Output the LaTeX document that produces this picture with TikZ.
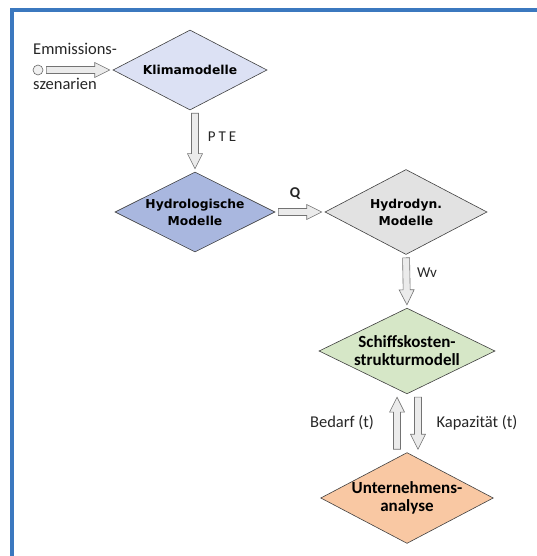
\documentclass[tikz,border=0pt]{standalone}
\usepackage{fontspec}
\setmainfont{Carlito}
\newfontfamily\boxfont{DejaVu Sans}
\usetikzlibrary{shapes.geometric,calc,positioning}
\definecolor{framecol}{HTML}{3B78BF}
\definecolor{klimacol}{HTML}{DCE1F4}
\definecolor{hydrocol}{HTML}{A9B7DF}
\definecolor{dyncol}{HTML}{E2E2E2}
\definecolor{schiffcol}{HTML}{D6E7C7}
\definecolor{untercol}{HTML}{F9C8A3}
\newcommand{\blockarrow}[2]{%
	\coordinate (ba-s) at ($(#1)!3pt!(#2)$);
	\coordinate (ba-t) at ($(#2)!3pt!(#1)$);
	\coordinate (ba-h) at ($(ba-t)!15pt!(ba-s)$);
	\filldraw[blockarr] ($(ba-s)!3.5pt!90:(ba-t)$) -- ($(ba-h)!3.5pt!90:(ba-t)$)
		-- ($(ba-h)!7.5pt!90:(ba-t)$) -- (ba-t) -- ($(ba-h)!7.5pt!-90:(ba-t)$)
		-- ($(ba-h)!3.5pt!-90:(ba-t)$) -- ($(ba-s)!3.5pt!-90:(ba-t)$) -- cycle;%
}
\begin{document}
\begin{tikzpicture}[x=1pt, y=-1pt,
		model/.style={diamond, draw=black!75, line width=0.6pt, inner sep=0pt, aspect=1.9, align=center},
		dejamodel/.style={model, font=\boxfont\bfseries\fontsize{12.3}{17}\selectfont},
		calimodel/.style={model, font=\bfseries\fontsize{17}{18}\selectfont},
		lbl/.style={font=\fontsize{16.5}{18}\selectfont, text=black!85, inner sep=0pt},
		flowlbl/.style={font=\fontsize{15}{17}\selectfont, text=black!85, inner sep=0pt},
		blockarr/.style={draw=black!55, fill=black!8, line width=0.6pt, line join=miter}]
		\useasboundingbox (0,0) rectangle (537,556);
		\draw[framecol, line width=3.5pt] (12,556) -- (12,10) -- (537,10);
		\node[dejamodel, fill=klimacol, minimum width=154pt, minimum height=80pt] (klima) at (190,70) {Klimamodelle};
		\node[dejamodel, fill=hydrocol, minimum width=160pt, minimum height=80pt] (hydro) at (195,212) {Hydrologische\\Modelle};
		\node[dejamodel, fill=dyncol, minimum width=162pt, minimum height=85pt] (dyn) at (406,212) {Hydrodyn.\\Modelle};
		\node[calimodel, fill=schiffcol, minimum width=176pt, minimum height=82pt] (schiff) at (407,351) {Schiffskosten-\\strukturmodell};
		\node[calimodel, fill=untercol, minimum width=169pt, minimum height=85pt] (unter) at (407,498) {Unternehmens-\\analyse};
		\node[circle, draw=black!60, fill=black!6, line width=0.6pt, minimum size=10pt, inner sep=0pt] (src) at (38,70) {};
		\node[lbl, anchor=base west] (emm) at (33,55) {Emmissions-};
		\node[lbl, anchor=base west] (szen) at (33,90) {szenarien};
		\coordinate (pte-s) at (klima.south -| hydro.north);
		\coordinate (bed-s) at ([xshift=-10pt]unter.north);
		\coordinate (bed-t) at ([xshift=-10pt]schiff.south);
		\coordinate (kap-s) at ([xshift=11pt]schiff.south);
		\coordinate (kap-t) at ([xshift=11pt]unter.north);
		\blockarrow{src.east}{klima.west}
		\blockarrow{pte-s}{hydro.north}
		\blockarrow{hydro.east}{dyn.west}
		\blockarrow{dyn.south}{schiff.north}
		\blockarrow{bed-s}{bed-t}
		\blockarrow{kap-s}{kap-t}
		\node[flowlbl] (pte) at (222,137) {\addfontfeature{LetterSpace=20}PTE};
		\node[flowlbl, font=\bfseries\fontsize{15}{17}\selectfont] (q) at (295,194) {Q};
		\node[flowlbl] (wv) at (427,273) {Wv};
		\node[lbl] (bedarf) at (342,423) {Bedarf (t)};
		\node[lbl] (kap) at (477,423) {Kapazität (t)};
\end{tikzpicture}
\end{document}
